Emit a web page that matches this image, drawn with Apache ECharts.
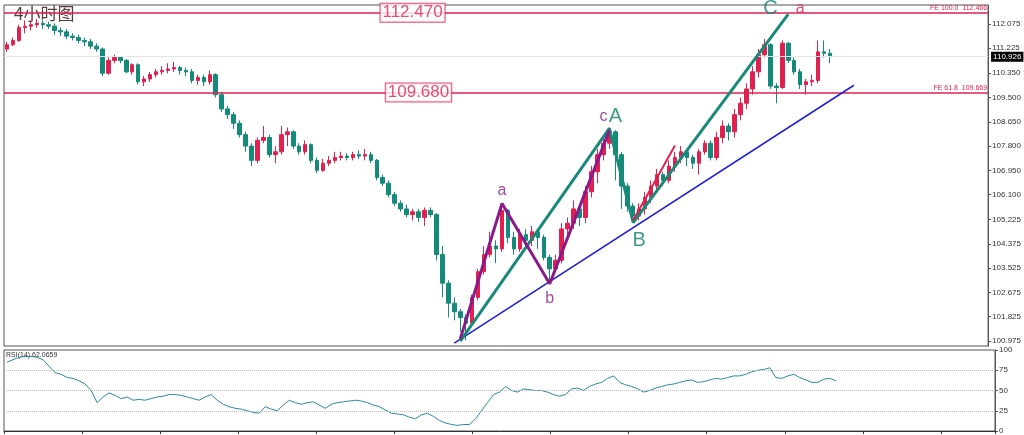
<!DOCTYPE html><html><head><meta charset="utf-8">
<script src="https://cdn.jsdelivr.net/npm/echarts@6/dist/echarts.min.js"></script>
<style>html,body{margin:0;background:#fff}#c{width:1024px;height:435px}</style></head><body><div id="c"></div>
<script>
const closes=[111.35,111.5,111.95,112.0,112.05,112.1,112.05,112.0,111.85,111.8,111.65,111.6,111.5,111.45,111.3,111.2,110.35,110.8,110.9,110.8,110.4,110.65,110.05,110.15,110.3,110.4,110.45,110.5,110.55,110.45,110.4,110.1,110.2,110.05,110.3,109.6,109.1,108.9,108.6,108.2,107.8,107.3,108.0,108.1,107.5,107.6,108.2,108.3,107.8,107.6,107.85,107.3,106.95,107.2,107.3,107.4,107.45,107.4,107.5,107.45,107.5,107.3,106.7,106.5,106.1,105.8,105.6,105.4,105.5,105.3,105.55,105.4,104.0,103.0,102.3,102.0,101.8,101.6,102.5,103.4,104.0,104.3,104.2,105.55,104.6,104.2,104.7,104.5,104.8,104.6,103.9,103.5,103.8,104.9,105.1,105.6,105.3,106.2,106.9,107.5,107.9,108.3,107.5,106.4,105.7,105.35,105.6,106.0,106.4,106.8,106.6,107.1,107.4,107.6,107.4,107.2,107.6,107.9,107.4,108.1,108.5,108.3,108.9,109.3,109.8,110.4,111.0,111.35,109.9,109.85,111.4,110.8,110.4,109.95,110.05,110.1,111.1,111.05,110.93];
const highs=[111.45,111.6,112.05,112.2,112.2,112.25,112.2,112.15,112.1,111.95,111.9,111.75,111.7,111.6,111.55,111.4,111.25,110.9,111.0,110.95,110.85,110.7,110.7,110.25,110.4,110.5,110.6,110.7,110.75,110.6,110.55,110.5,110.3,110.3,110.45,110.35,109.7,109.2,109.0,108.7,108.3,107.9,108.1,108.5,108.2,107.8,108.5,108.45,108.35,107.9,108.0,107.9,107.4,107.35,107.45,107.6,107.6,107.55,107.6,107.65,107.7,107.6,107.35,106.8,106.6,106.2,105.9,105.75,105.6,105.6,105.65,105.65,105.45,104.3,103.1,102.5,102.1,101.9,102.6,103.5,104.3,104.8,104.5,105.8,105.6,104.8,104.9,104.9,105.0,104.9,104.7,104.0,104.0,105.1,105.3,105.9,105.7,106.4,107.1,107.7,108.1,108.45,108.35,107.6,106.5,105.8,105.8,106.2,106.6,107.0,106.9,107.3,107.6,107.8,107.7,107.5,107.7,108.0,108.0,108.3,108.7,108.6,109.1,109.5,110.0,110.6,111.2,111.55,111.4,110.0,111.5,111.45,110.9,110.5,110.15,110.3,111.5,111.5,111.2];
const lows=[111.1,111.3,111.45,111.75,111.85,111.95,111.9,111.9,111.7,111.65,111.55,111.5,111.4,111.3,111.2,111.1,110.25,110.3,110.7,110.7,110.35,110.3,109.95,109.9,110.05,110.2,110.3,110.35,110.4,110.3,110.25,110.0,109.95,109.9,109.95,109.5,109.0,108.75,108.4,108.1,107.6,107.1,107.2,107.9,107.4,107.2,107.5,107.8,107.7,107.5,107.5,107.2,106.85,106.9,107.1,107.2,107.3,107.3,107.3,107.35,107.3,107.2,106.6,106.4,106.0,105.7,105.5,105.3,105.2,105.15,105.0,105.3,103.8,102.5,101.8,101.7,101.3,101.0,101.5,102.4,103.3,103.9,103.7,104.1,104.4,104.0,104.1,104.3,104.3,104.2,103.8,103.0,103.4,103.7,104.5,104.9,105.0,105.1,106.0,106.5,107.3,107.7,106.6,105.6,105.5,105.15,105.2,105.4,105.8,106.2,106.4,106.5,106.9,107.2,107.1,107.0,106.8,107.5,107.3,107.3,107.9,108.0,108.1,108.7,109.1,109.6,110.2,110.9,109.8,109.3,109.8,110.7,110.3,109.8,109.6,109.9,110.0,110.9,110.7];
const firstOpen=111.2;
const rsi=[85,88,91,92,92,91,88,80,72,70,66,65,62,58,50,35,42,47,44,40,42,38,39,38,40,42,43,45,45,44,42,40,38,42,45,38,33,30,28,27,25,23,22,30,27,25,32,38,35,33,35,36,32,28,33,35,36,37,38,37,35,32,30,26,22,21,20,17,15,20,22,18,13,10,8,7,8,8,15,25,35,45,48,55,50,48,52,51,50,50,48,45,43,45,52,53,50,55,58,60,65,68,60,57,55,52,48,50,53,55,57,58,60,62,63,60,61,63,65,64,66,68,68,70,73,75,76,78,66,65,68,70,66,63,60,60,64,65,62];
const priceTicks=[112.075,111.225,110.350,109.500,108.650,107.800,106.950,106.100,105.225,104.375,103.525,102.675,101.825,100.975];
const rsiTicks=[100,75,50,25,0];
const fe100=112.466, fe618=109.669, lastPrice=110.926;
const blueLine=[[75,100.9],[142,109.93]];
const tealLine=[[75.5,100.97],[101,108.42],[105,105.12],[131,112.42]];
const purpleLine=[[75.8,101.05],[83,105.79],[91,102.98],[101,108.35]];
const redLine=[[105,105.2],[112,107.82]];
const totalSlots=165;

const cats=[];for(let i=0;i<totalSlots;i++)cats.push(i);
const candles=closes.map((c,i)=>[i===0?firstOpen:closes[i-1],c,lows[i],highs[i]]);
const RED='#e0204f',TEAL='#138a7a',TEALTXT='#0f7f70',PURP='#8a1a8a';
function txt(pt,t,color,size){return {value:pt,label:{show:true,formatter:t,color:color,fontSize:size,fontFamily:'Arial'}};}
function box(pt,t){return {value:pt,label:{show:true,formatter:t,color:RED,fontSize:17,fontFamily:'Arial',backgroundColor:'#fff',borderColor:RED,borderWidth:1,padding:[1,2,0,2]}};}
const chart=echarts.init(document.getElementById('c'));
chart.setOption({
animation:false,
grid:[{left:4,right:29,top:5,height:341,show:true,borderColor:'#555',borderWidth:1},{left:4,right:29,top:350,height:82,show:true,borderColor:'#555',borderWidth:1}],
xAxis:[{type:'category',data:cats,gridIndex:0,boundaryGap:true,axisLabel:{show:false},axisTick:{show:false},axisLine:{show:false}},
{type:'category',data:cats,gridIndex:1,boundaryGap:true,axisLabel:{show:false},axisTick:{show:true,interval:12,length:3,lineStyle:{color:'#333'}},axisLine:{lineStyle:{color:'#333'}}}],
yAxis:[{type:'value',gridIndex:0,position:'right',min:100.80,max:112.74,splitLine:{show:false},axisLine:{show:true,lineStyle:{color:'#555'}},axisTick:{show:true,length:3,customValues:priceTicks},axisLabel:{customValues:priceTicks,fontSize:8,color:'#333',margin:4,formatter:v=>v.toFixed(3)}},
{type:'value',gridIndex:1,position:'right',min:0,max:100,axisLine:{show:true,lineStyle:{color:'#555'}},axisTick:{show:true,length:3,customValues:rsiTicks},axisLabel:{customValues:rsiTicks,fontSize:8,color:'#333',margin:4},splitLine:{show:false}}],
series:[
{type:'candlestick',data:candles,barWidth:4,itemStyle:{color:RED,color0:TEAL,borderColor:RED,borderColor0:TEAL,borderWidth:1},
 markLine:{symbol:'none',silent:true,data:[
  {yAxis:fe100,lineStyle:{color:RED,width:1.5,type:'solid'},label:{position:'insideEndTop',formatter:'FE 100.0  '+fe100,color:RED,fontSize:7,distance:1}},
  {yAxis:fe618,lineStyle:{color:RED,width:1.5,type:'solid'},label:{position:'insideEndTop',formatter:'FE 61.8  '+fe618,color:RED,fontSize:7,distance:1}},
  {yAxis:lastPrice,lineStyle:{color:'#e4e4e4',width:1,type:'solid'},label:{position:'end',formatter:lastPrice.toFixed(3),color:'#fff',backgroundColor:'#000',fontSize:8,padding:[1,2],distance:3}}]}},
{type:'line',data:blueLine,symbol:'none',lineStyle:{color:'#1f1fd6',width:1.5},z:5},
{type:'line',data:tealLine,symbol:'none',lineStyle:{color:'#1a8a78',width:3},z:6},
{type:'line',data:purpleLine,symbol:'none',lineStyle:{color:PURP,width:3},z:7},
{type:'line',data:redLine,symbol:'none',lineStyle:{color:RED,width:2},z:7},
{type:'scatter',symbolSize:0,z:10,data:[
 box([68,112.47],'112.470'),
 box([69,109.68],'109.680'),
 txt([83,106.25],'a',PURP,16),
 txt([91,102.45],'b',PURP,16),
 txt([100.3,108.85],'c',PURP,16),
 txt([102.1,108.85],'A',TEALTXT,20),
 txt([106,104.5],'B',TEALTXT,20),
 txt([127.6,112.62],'C',TEALTXT,20),
 txt([132.7,112.6],'a',RED,16)
]},
{type:'line',xAxisIndex:1,yAxisIndex:1,data:rsi,symbol:'none',lineStyle:{color:'#2a8a9a',width:1},
 markLine:{symbol:'none',silent:true,lineStyle:{color:'#bbb',type:'dotted',width:1},label:{show:false},data:[{yAxis:75},{yAxis:50},{yAxis:25}]}}
],
graphic:[
 {type:'text',left:14,top:5,style:{text:'4小时图',fontSize:17,fill:'#5a3a3a',fontFamily:'Noto Sans CJK SC'}},
 {type:'text',left:6,top:352,style:{text:'RSI(14) 62.0659',fontSize:7,fill:'#333',fontFamily:'Arial'}}
]
});
</script></body></html>
